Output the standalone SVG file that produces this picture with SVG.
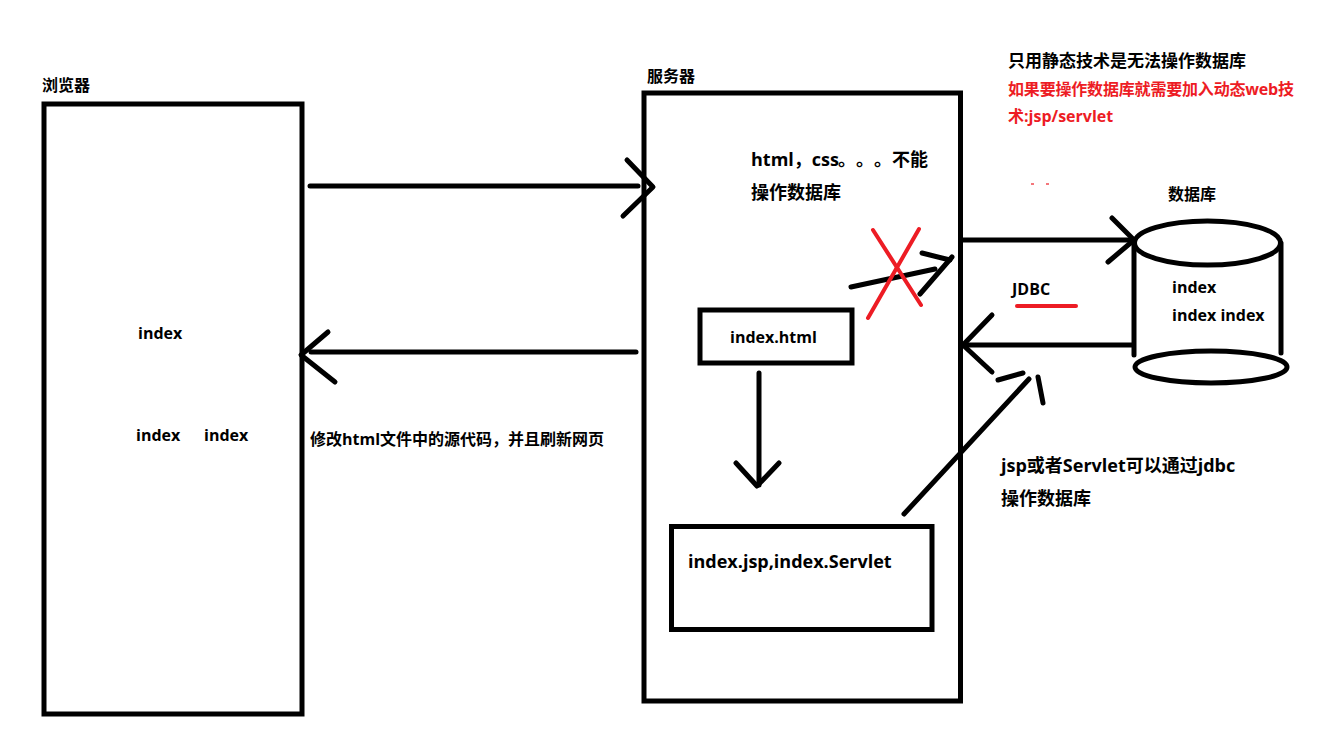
<svg xmlns="http://www.w3.org/2000/svg" width="1319" height="735" viewBox="0 0 1319 735">
<style>
.t{font-family:"Open Sans","Noto Sans CJK SC",sans-serif;font-weight:700;fill:#000}
.r{fill:#ed1c24}
.box{fill:none;stroke:#000;stroke-width:5}
.ln{fill:none;stroke:#000;stroke-width:5;stroke-linecap:round;stroke-linejoin:round}
.rl{fill:none;stroke:#ed1c24;stroke-width:4;stroke-linecap:round}
</style>
<rect width="1319" height="735" fill="#fff"/>
<g id="browser">
<text class="t" x="42" y="91" font-size="16">浏览器</text>
<rect class="box" x="44" y="104" width="258" height="610"/>
<text class="t" x="138" y="339" font-size="16">index</text>
<text class="t" x="136" y="441" font-size="16">index</text>
<text class="t" x="204" y="441" font-size="16">index</text>
</g>
<g id="server">
<text class="t" x="647" y="82" font-size="16">服务器</text>
<rect class="box" x="644" y="93" width="316.5" height="608"/>
<text class="t" x="751" y="166" font-size="18">html，css<tspan x="838">。</tspan><tspan x="856">。</tspan><tspan x="874">。</tspan><tspan x="892">不能</tspan></text>
<text class="t" x="751" y="199" font-size="18">操作数据库</text>
</g>
<g id="index-html">
<rect class="box" x="700" y="310" width="152" height="53"/>
<text class="t" x="730" y="343" font-size="16">index.html</text>
</g>
<g id="index-jsp">
<rect class="box" x="671.5" y="526.5" width="260.5" height="103"/>
<text class="t" x="688" y="568" font-size="18">index.jsp,index.Servlet</text>
</g>
<g id="database">
<text class="t" x="1168" y="200" font-size="16">数据库</text>
<ellipse class="box" cx="1207.5" cy="243" rx="73" ry="22"/>
<line class="ln" x1="1134" y1="243" x2="1134" y2="355"/>
<line class="ln" x1="1281" y1="243" x2="1281" y2="353"/>
<ellipse class="box" cx="1211" cy="367" rx="76" ry="16"/>
<text class="t" x="1172" y="293" font-size="16">index</text>
<text class="t" x="1172" y="321" font-size="16">index index</text>
</g>
<g id="notes">
<text class="t" x="1008" y="67" font-size="17">只用静态技术是无法操作数据库</text>
<text class="t r" x="1008" y="95" font-size="16" textLength="286" lengthAdjust="spacing">如果要操作数据库就需要加入动态web技</text>
<text class="t r" x="1008" y="122" font-size="16">术:jsp/servlet</text>
<text class="t" x="310" y="445" font-size="16">修改html文件中的源代码，并且刷新网页</text>
<text class="t" x="1001" y="472" font-size="18">jsp或者Servlet可以通过jdbc</text>
<text class="t" x="1001" y="505" font-size="18">操作数据库</text>
<text class="t" x="1012" y="295" font-size="16">JDBC</text>
<line class="rl" x1="1017" y1="306" x2="1076" y2="306"/>
<line x1="1031" y1="184" x2="1034" y2="184" stroke="#ed1c24" stroke-width="1.2"/>
<line x1="1046" y1="184" x2="1049" y2="184" stroke="#ed1c24" stroke-width="1.2"/>
</g>
<g id="connectors">
<!-- browser to server -->
<line class="ln" x1="310" y1="186" x2="638" y2="186"/>
<polyline class="ln" points="627,160 653,187 623,216"/>
<!-- server to browser -->
<line class="ln" x1="311" y1="352" x2="636" y2="352"/>
<polyline class="ln" points="328,332 301,355 335,382"/>
<!-- html to jsp -->
<line class="ln" x1="759" y1="373" x2="759" y2="485"/>
<polyline class="ln" points="736,463 757,486 779,463"/>
<!-- crossed arrow -->
<line class="ln" x1="851" y1="287" x2="935" y2="269"/>
<line class="ln" x1="922" y1="253" x2="950" y2="260"/>
<line class="ln" x1="952" y1="257" x2="920" y2="294"/>
<line class="rl" x1="873" y1="230" x2="921" y2="305"/>
<line class="rl" x1="919" y1="229" x2="868" y2="318"/>
<!-- server to db -->
<line class="ln" x1="962" y1="240" x2="1133" y2="240"/>
<polyline class="ln" points="1112,218 1134,240 1108,262"/>
<!-- db to server -->
<line class="ln" x1="1132" y1="345" x2="964" y2="345"/>
<polyline class="ln" points="992,315 963,345 992,372"/>
<!-- jsp to db diagonal -->
<line class="ln" x1="904" y1="514" x2="1029" y2="379"/>
<line class="ln" x1="998" y1="380" x2="1023" y2="373"/>
<line class="ln" x1="1038" y1="377" x2="1043" y2="403"/>
</g>
</svg>
